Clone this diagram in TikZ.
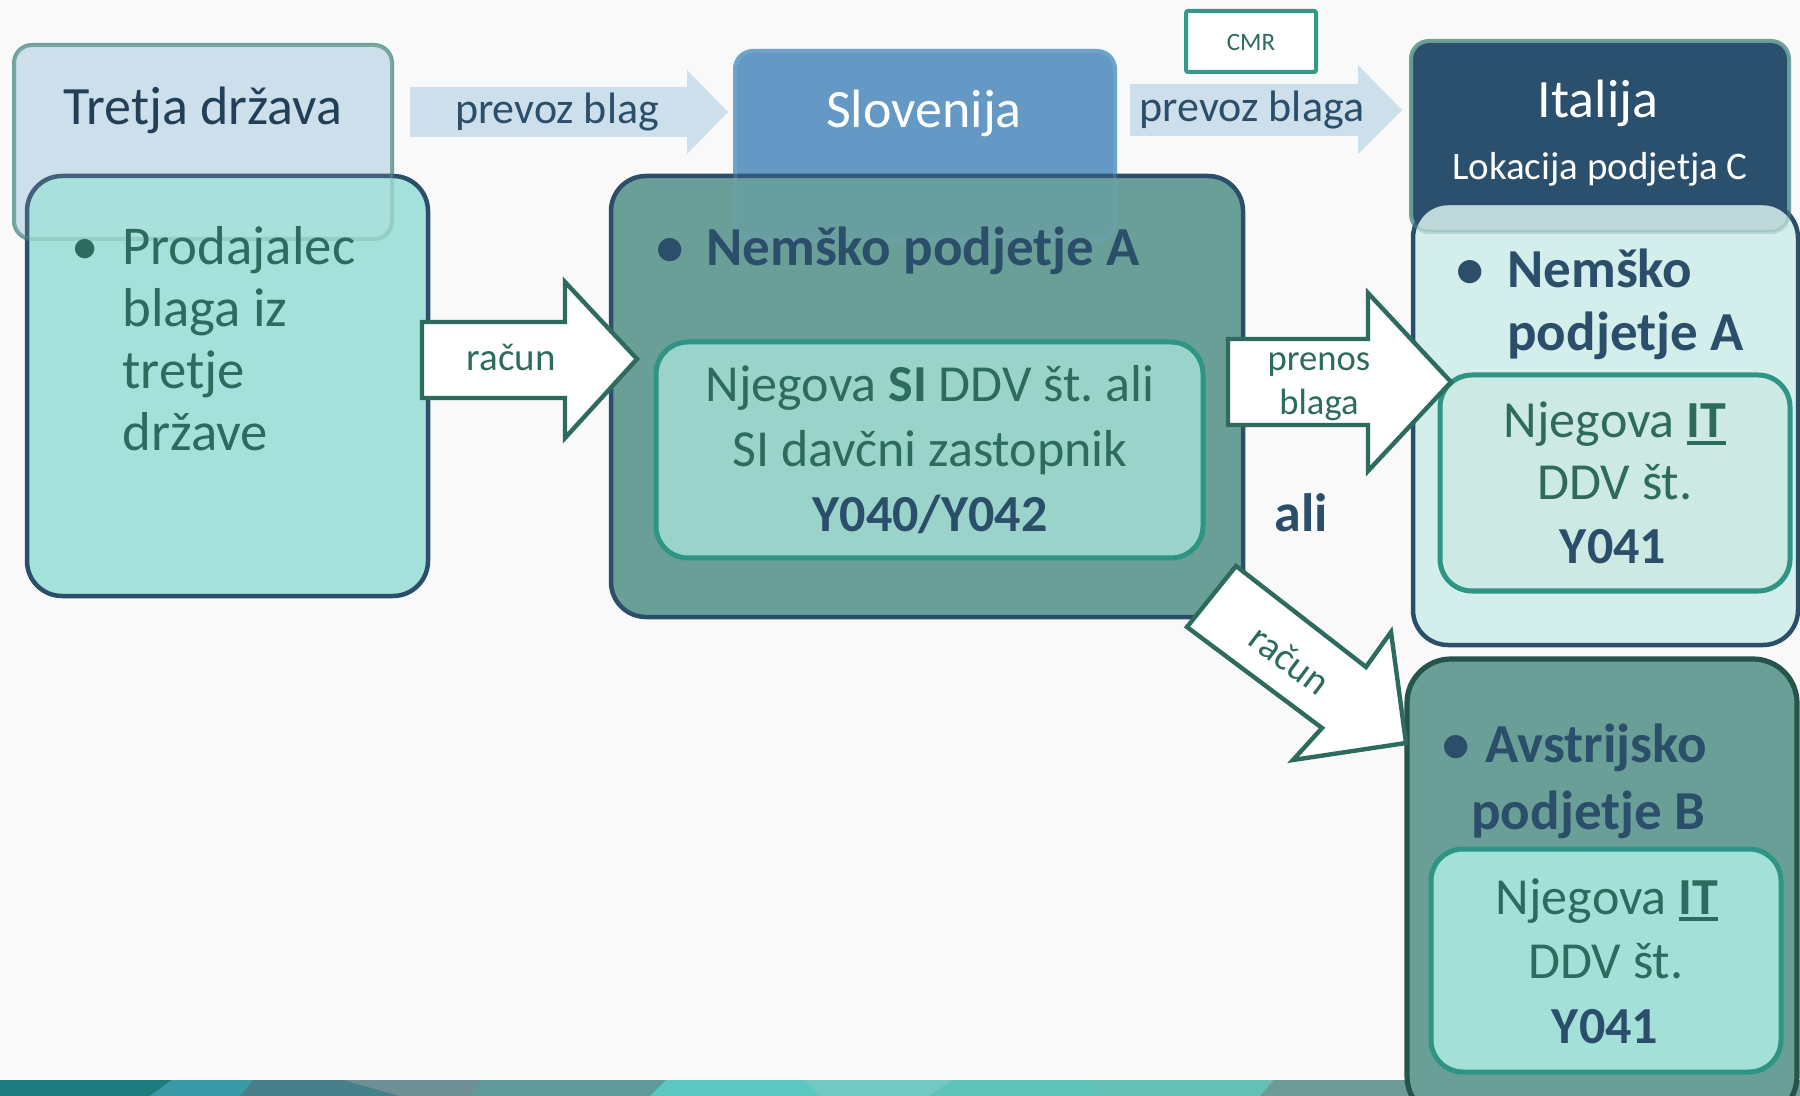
\documentclass[tikz,border=0pt]{standalone}
\usepackage{fontspec}
\setmainfont{Carlito}
\frenchspacing
\definecolor{bg}{HTML}{F9F9F9}
\definecolor{hdrlight}{HTML}{CCDFEB}
\definecolor{hdrborder}{HTML}{6FA39A}
\definecolor{slo}{HTML}{6399C4}
\definecolor{sloborder}{HTML}{6FA5CB}
\definecolor{ita}{HTML}{2A506D}
\definecolor{dblue}{HTML}{2B4E6B}
\definecolor{tdark}{HTML}{233F58}
\definecolor{dteal}{HTML}{2D6B5E}
\definecolor{tealb}{HTML}{2E9484}
\definecolor{boxA}{HTML}{A4E1DA}
\definecolor{boxmid}{HTML}{6A9F98}
\definecolor{boxlight}{HTML}{D4EFEB}
\definecolor{innermid}{HTML}{9AD3C9}
\definecolor{innerlight}{HTML}{CDE9E3}
\definecolor{innerB}{HTML}{A3E0D8}
\definecolor{dgreen}{HTML}{24544A}
\definecolor{cmrb}{HTML}{35998A}
\definecolor{sA}{HTML}{1E7B7E}
\definecolor{sB}{HTML}{3A9AA8}
\definecolor{sC}{HTML}{47808A}
\definecolor{sD}{HTML}{6E8F93}
\definecolor{sE}{HTML}{5F9B9A}
\definecolor{sF}{HTML}{5CC8C2}
\definecolor{sG}{HTML}{72C9C2}
\definecolor{sH}{HTML}{5EC4BA}
\definecolor{sI}{HTML}{64BFB5}
\definecolor{sJ}{HTML}{6E9A98}
\newcommand{\fsHead}{\fontsize{27}{32}\selectfont}
\newcommand{\fsBody}{\fontsize{27.4}{32}\selectfont}
\newcommand{\fsBold}{\fontsize{27.5}{32}\selectfont\bfseries}
\newcommand{\fsInner}{\fontsize{26}{31}\selectfont}
\newcommand{\fsArr}{\fontsize{22}{26}\selectfont}
\newcommand{\fsLok}{\fontsize{19.5}{23}\selectfont}
\newcommand{\fsRac}{\fontsize{19.5}{23}\selectfont}
\newcommand{\fsPre}{\fontsize{18.3}{22}\selectfont}
\newcommand{\fsCmr}{\fontsize{12.5}{15}\selectfont}
\newcommand{\ulbold}[1]{\begingroup\setbox0\hbox{\bfseries #1}\rlap{\rule[-0.14em]{\wd0}{0.075em}}\box0\endgroup}
\tikzset{
  hdr/.style={line width=2pt, rounded corners=9pt},
  lowbox/.style={line width=2.25pt, rounded corners=17.5pt},
  innerbox/.style={draw=tealb, line width=2.5pt, rounded corners=16pt},
  overlay/.style={fill opacity=0.14, draw opacity=0.3, line width=2pt, rounded corners=9pt},
  blockarrow/.style={fill=white, draw=dteal, line width=2.2pt, line join=miter},
  lightarrow/.style={fill=hdrlight},
  tc/.style={inner sep=0pt, anchor=base},
  tl/.style={inner sep=0pt, anchor=base west},
}
\begin{document}
\begin{tikzpicture}[x=0.5pt,y=-0.5pt]
\useasboundingbox (0,0) rectangle (1800,1096);
\clip (0,0) rectangle (1800,1096);
\fill[bg] (0,0) rectangle (1800,1096);
% bottom strip
\fill[sE] (0,1080) rectangle (1800,1096);
\fill[sA] (0,1080) -- (172,1080) -- (150,1096) -- (0,1096) -- cycle;
\fill[sB] (172,1080) -- (253,1080) -- (240,1096) -- (150,1096) -- cycle;
\fill[sC] (253,1080) -- (344,1080) -- (400,1096) -- (240,1096) -- cycle;
\fill[sD] (344,1080) -- (482,1080) -- (470,1096) -- (400,1096) -- cycle;
\fill[sE] (482,1080) -- (666,1080) -- (650,1096) -- (470,1096) -- cycle;
\fill[sF] (666,1080) -- (804,1080) -- (820,1096) -- (650,1096) -- cycle;
\fill[sG] (804,1080) -- (953,1080) -- (930,1096) -- (820,1096) -- cycle;
\fill[sH] (953,1080) -- (1090,1080) -- (1100,1096) -- (930,1096) -- cycle;
\fill[sI] (1090,1080) -- (1274,1080) -- (1260,1096) -- (1100,1096) -- cycle;
\fill[sJ] (1274,1080) -- (1800,1080) -- (1800,1096) -- (1260,1096) -- cycle;

% header boxes
\path[hdr, fill=hdrlight, draw=hdrborder] (14,45) rectangle (392,239);
\path[hdr, fill=slo, draw=sloborder] (735,51) rectangle (1115,240);
\path[hdr, fill=ita, draw=hdrborder] (1411,41) rectangle (1789,232);

% light arrows
\path[lightarrow] (410,87) -- (687,87) -- (687,70) -- (728,112) -- (687,154) -- (687,137) -- (410,137) -- cycle;
\path[lightarrow] (1130,84) -- (1358,84) -- (1358,65) -- (1402,110) -- (1358,154) -- (1358,136) -- (1130,136) -- cycle;

% CMR box
\path[fill=white, draw=cmrb, line width=2pt, rounded corners=1pt] (1186,11) rectangle (1316,72);

% lower boxes
\path[lowbox, fill=boxA, draw=dblue] (27,176) rectangle (428,596);
\path[lowbox, fill=boxmid, draw=dblue] (611,176) rectangle (1243,617);
\path[lowbox, fill=boxlight, draw=dblue] (1413,203) rectangle (1798,645);
\path[lowbox, fill=boxmid, draw=dgreen, line width=2.6pt, rounded corners=22pt] (1407,659) rectangle (1797,1120);

% faint overlays of header boxes
\path[overlay, fill=hdrlight, draw=hdrborder] (14,45) rectangle (392,239);
\path[overlay, fill=slo, draw=sloborder] (735,51) rectangle (1115,240);
\path[overlay, fill=ita, draw=hdrborder] (1411,41) rectangle (1789,232);

% inner boxes
\path[innerbox, fill=innermid] (656,342) rectangle (1203,558);
\path[innerbox, fill=innerlight] (1440,375) rectangle (1790,591);
\path[innerbox, fill=innerB] (1431,849) rectangle (1781,1072);

% block arrows
\path[blockarrow] (422,322) -- (565,322) -- (565,282) -- (637,359) -- (565,438) -- (565,398) -- (422,398) -- cycle;
\path[blockarrow] (1228,339) -- (1368,339) -- (1368,293) -- (1451,382) -- (1368,471) -- (1368,425) -- (1228,425) -- cycle;
\path[blockarrow] (1236,566) -- (1366,667) -- (1391,632) -- (1406,743) -- (1293,760) -- (1322,728) -- (1187,627) -- cycle;

% header texts
\node[tc, font=\fsHead, text=tdark] (tretjaT) at (203,125) {Tretja država};
\node[tc, font=\fsArr, text=dblue] (prevoz1) at (557,124) {prevoz blag};
\node[tc, font=\fsHead, text=white] (sloT) at (924,128) {Slovenija};
\node[tc, font=\fsCmr, text=dteal] (cmrT) at (1251,51) {CMR};
\node[tc, font=\fsArr, text=dblue] (prevoz2) at (1252,122) {prevoz blaga};
\node[tc, font=\fsHead, text=white] (itaT) at (1598,118) {Italija};
\node[tc, font=\fsLok, text=white] (lokT) at (1600,180) {Lokacija podjetja C};

% Prodajalec
\node[tc, font=\fsBody, text=dteal] (bul1) at (85,265) {•};
\node[tl, font=\fsBody, text=dteal] (p1) at (122,265) {Prodajalec};
\node[tl, font=\fsBody, text=dteal] (p2) at (122,327) {blaga iz};
\node[tl, font=\fsBody, text=dteal] (p3) at (122,389) {tretje};
\node[tl, font=\fsBody, text=dteal] (p4) at (122,451) {države};

% centre box
\node[tc, font=\fsBold, text=dblue] (bul2) at (670,266) {•};
\node[tl, font=\fsBold, text=dblue] (nemA) at (706,266) {Nemško podjetje A};
\node[tc, font=\fsInner, text=dteal] (c1) at (930,402) {Njegova \textbf{SI} DDV št. ali};
\node[tc, font=\fsInner, text=dteal] (c2) at (930,467) {SI davčni zastopnik};
\node[tc, font=\fsInner\bfseries, text=dblue] (c3) at (930,531) {Y040/Y042};

% arrow labels
\node[tc, font=\fsRac, text=dteal] (rac1) at (511,371) {račun};
\node[tc, font=\fsPre, text=dteal] (pren1) at (1319,371) {prenos};
\node[tc, font=\fsPre, text=dteal] (pren2) at (1319,415) {blaga};
\node[tc, font=\fsHead\bfseries, text=dblue] (ali) at (1301,531) {ali};
\node[inner sep=0pt, font=\fsRac, text=dteal, rotate=-37] (rac2) at (1290,660) {račun};

% right box
\node[tc, font=\fsBold, text=dblue] (bul3) at (1470,288) {•};
\node[tl, font=\fsBold, text=dblue] (r1) at (1507,288) {Nemško};
\node[tl, font=\fsBold, text=dblue] (r2) at (1507,351) {podjetje A};
\node[tc, font=\fsInner, text=dteal] (r3) at (1615,438) {Njegova \ulbold{IT}};
\node[tc, font=\fsInner, text=dteal] (r4) at (1615,500) {DDV št.};
\node[tc, font=\fsInner\bfseries, text=dblue] (r5) at (1613,564) {Y041};

% Austrian box
\node[tc, font=\fsBold, text=dblue] (bul4) at (1456,762) {•};
\node[tl, font=\fsBold, text=dblue] (a1) at (1485,762) {Avstrijsko};
\node[tl, font=\fsBold, text=dblue] (a2) at (1471,829) {podjetje B};
\node[tc, font=\fsInner, text=dteal] (a3) at (1607,914) {Njegova \ulbold{IT}};
\node[tc, font=\fsInner, text=dteal] (a4) at (1606,978) {DDV št.};
\node[tc, font=\fsInner\bfseries, text=dblue] (a5) at (1605,1043) {Y041};
\end{tikzpicture}
\end{document}
